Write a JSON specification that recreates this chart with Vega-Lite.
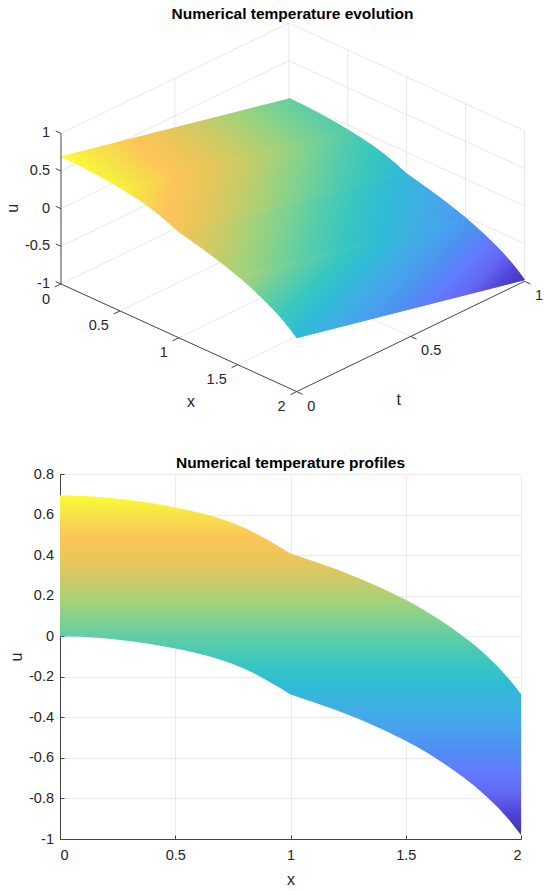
{
  "$schema": "https://vega.github.io/schema/vega-lite/v6.json",
  "background": "white",
  "padding": {"left": 5, "top": 7, "right": 5, "bottom": 5},
  "bounds": "flush",
  "spacing": 82,
  "config": {
    "view": {"stroke": null},
    "font": "Liberation Sans",
    "title": {"font": "Liberation Sans", "fontSize": 15.5, "fontWeight": "bold", "color": "#000000"},
    "text": {"font": "Liberation Sans", "color": "#262626"},
    "axis": {
      "labelFont": "Liberation Sans", "labelFontSize": 14.5, "labelColor": "#262626",
      "titleFont": "Liberation Sans", "titleFontSize": 16, "titleFontWeight": "normal", "titleColor": "#262626",
      "domainColor": "#444444", "domainWidth": 1, "tickColor": "#444444", "tickWidth": 1, "tickSize": -4,
      "labelPadding": 8, "grid": true, "gridColor": "#E6E6E6", "gridWidth": 0.8
    }
  },
  "data": {
    "values": [
      {"kind": "surf", "x": 0, "t": 0, "u": 0.695},
      {"kind": "surf", "x": 0.1, "t": 0, "u": 0.692},
      {"kind": "surf", "x": 0.2, "t": 0, "u": 0.684},
      {"kind": "surf", "x": 0.3, "t": 0, "u": 0.672},
      {"kind": "surf", "x": 0.4, "t": 0, "u": 0.656},
      {"kind": "surf", "x": 0.5, "t": 0, "u": 0.635},
      {"kind": "surf", "x": 0.55, "t": 0, "u": 0.623},
      {"kind": "surf", "x": 0.6, "t": 0, "u": 0.61},
      {"kind": "surf", "x": 0.65, "t": 0, "u": 0.595},
      {"kind": "surf", "x": 0.7, "t": 0, "u": 0.578},
      {"kind": "surf", "x": 0.75, "t": 0, "u": 0.558},
      {"kind": "surf", "x": 0.8, "t": 0, "u": 0.535},
      {"kind": "surf", "x": 0.85, "t": 0, "u": 0.507},
      {"kind": "surf", "x": 0.9, "t": 0, "u": 0.476},
      {"kind": "surf", "x": 0.95, "t": 0, "u": 0.443},
      {"kind": "surf", "x": 1, "t": 0, "u": 0.408},
      {"kind": "surf", "x": 1.1, "t": 0, "u": 0.37},
      {"kind": "surf", "x": 1.2, "t": 0, "u": 0.33},
      {"kind": "surf", "x": 1.3, "t": 0, "u": 0.285},
      {"kind": "surf", "x": 1.4, "t": 0, "u": 0.235},
      {"kind": "surf", "x": 1.5, "t": 0, "u": 0.18},
      {"kind": "surf", "x": 1.55, "t": 0, "u": 0.149},
      {"kind": "surf", "x": 1.6, "t": 0, "u": 0.115},
      {"kind": "surf", "x": 1.65, "t": 0, "u": 0.079},
      {"kind": "surf", "x": 1.7, "t": 0, "u": 0.04},
      {"kind": "surf", "x": 1.75, "t": 0, "u": -0.001},
      {"kind": "surf", "x": 1.8, "t": 0, "u": -0.045},
      {"kind": "surf", "x": 1.85, "t": 0, "u": -0.095},
      {"kind": "surf", "x": 1.9, "t": 0, "u": -0.15},
      {"kind": "surf", "x": 1.95, "t": 0, "u": -0.213},
      {"kind": "surf", "x": 2, "t": 0, "u": -0.285},
      {"kind": "surf", "x": 0, "t": 1, "u": 0},
      {"kind": "surf", "x": 0.1, "t": 1, "u": -0.003},
      {"kind": "surf", "x": 0.2, "t": 1, "u": -0.011},
      {"kind": "surf", "x": 0.3, "t": 1, "u": -0.023},
      {"kind": "surf", "x": 0.4, "t": 1, "u": -0.039},
      {"kind": "surf", "x": 0.5, "t": 1, "u": -0.06},
      {"kind": "surf", "x": 0.55, "t": 1, "u": -0.072},
      {"kind": "surf", "x": 0.6, "t": 1, "u": -0.085},
      {"kind": "surf", "x": 0.65, "t": 1, "u": -0.1},
      {"kind": "surf", "x": 0.7, "t": 1, "u": -0.117},
      {"kind": "surf", "x": 0.75, "t": 1, "u": -0.137},
      {"kind": "surf", "x": 0.8, "t": 1, "u": -0.16},
      {"kind": "surf", "x": 0.85, "t": 1, "u": -0.188},
      {"kind": "surf", "x": 0.9, "t": 1, "u": -0.219},
      {"kind": "surf", "x": 0.95, "t": 1, "u": -0.252},
      {"kind": "surf", "x": 1, "t": 1, "u": -0.287},
      {"kind": "surf", "x": 1.1, "t": 1, "u": -0.325},
      {"kind": "surf", "x": 1.2, "t": 1, "u": -0.365},
      {"kind": "surf", "x": 1.3, "t": 1, "u": -0.41},
      {"kind": "surf", "x": 1.4, "t": 1, "u": -0.46},
      {"kind": "surf", "x": 1.5, "t": 1, "u": -0.515},
      {"kind": "surf", "x": 1.55, "t": 1, "u": -0.546},
      {"kind": "surf", "x": 1.6, "t": 1, "u": -0.58},
      {"kind": "surf", "x": 1.65, "t": 1, "u": -0.616},
      {"kind": "surf", "x": 1.7, "t": 1, "u": -0.655},
      {"kind": "surf", "x": 1.75, "t": 1, "u": -0.696},
      {"kind": "surf", "x": 1.8, "t": 1, "u": -0.74},
      {"kind": "surf", "x": 1.85, "t": 1, "u": -0.79},
      {"kind": "surf", "x": 1.9, "t": 1, "u": -0.845},
      {"kind": "surf", "x": 1.95, "t": 1, "u": -0.908},
      {"kind": "surf", "x": 2, "t": 1, "u": -0.98},
      {"kind": "grid", "x": 0, "t": 0, "u": -1, "x2": 0, "t2": 1, "u2": -1},
      {"kind": "grid", "x": 0, "t": 0, "u": -0.5, "x2": 0, "t2": 1, "u2": -0.5},
      {"kind": "grid", "x": 0, "t": 0, "u": 0, "x2": 0, "t2": 1, "u2": 0},
      {"kind": "grid", "x": 0, "t": 0, "u": 0.5, "x2": 0, "t2": 1, "u2": 0.5},
      {"kind": "grid", "x": 0, "t": 0, "u": 1, "x2": 0, "t2": 1, "u2": 1},
      {"kind": "grid", "x": 0, "t": 1, "u": -1, "x2": 2, "t2": 1, "u2": -1},
      {"kind": "grid", "x": 0, "t": 1, "u": -0.5, "x2": 2, "t2": 1, "u2": -0.5},
      {"kind": "grid", "x": 0, "t": 1, "u": 0, "x2": 2, "t2": 1, "u2": 0},
      {"kind": "grid", "x": 0, "t": 1, "u": 0.5, "x2": 2, "t2": 1, "u2": 0.5},
      {"kind": "grid", "x": 0, "t": 1, "u": 1, "x2": 2, "t2": 1, "u2": 1},
      {"kind": "grid", "x": 0, "t": 0.5, "u": -1, "x2": 0, "t2": 0.5, "u2": 1},
      {"kind": "grid", "x": 0, "t": 1, "u": -1, "x2": 0, "t2": 1, "u2": 1},
      {"kind": "grid", "x": 0.5, "t": 1, "u": -1, "x2": 0.5, "t2": 1, "u2": 1},
      {"kind": "grid", "x": 1, "t": 1, "u": -1, "x2": 1, "t2": 1, "u2": 1},
      {"kind": "grid", "x": 1.5, "t": 1, "u": -1, "x2": 1.5, "t2": 1, "u2": 1},
      {"kind": "grid", "x": 2, "t": 1, "u": -1, "x2": 2, "t2": 1, "u2": 1},
      {"kind": "grid", "x": 0.5, "t": 0, "u": -1, "x2": 0.5, "t2": 1, "u2": -1},
      {"kind": "grid", "x": 1, "t": 0, "u": -1, "x2": 1, "t2": 1, "u2": -1},
      {"kind": "grid", "x": 1.5, "t": 0, "u": -1, "x2": 1.5, "t2": 1, "u2": -1},
      {"kind": "grid", "x": 0, "t": 0.5, "u": -1, "x2": 2, "t2": 0.5, "u2": -1},
      {"kind": "axis", "x": 0, "t": 0, "u": -1, "x2": 0, "t2": 0, "u2": 1},
      {"kind": "axis", "x": 0, "t": 0, "u": -1, "x2": 2, "t2": 0, "u2": -1},
      {"kind": "axis", "x": 2, "t": 0, "u": -1, "x2": 2, "t2": 1, "u2": -1},
      {"kind": "axis", "x": 0, "t": 0, "u": -1, "x2": -0.045, "t2": 0, "u2": -1},
      {"kind": "axis", "x": 0, "t": 0, "u": -0.5, "x2": -0.045, "t2": 0, "u2": -0.5},
      {"kind": "axis", "x": 0, "t": 0, "u": 0, "x2": -0.045, "t2": 0, "u2": 0},
      {"kind": "axis", "x": 0, "t": 0, "u": 0.5, "x2": -0.045, "t2": 0, "u2": 0.5},
      {"kind": "axis", "x": 0, "t": 0, "u": 1, "x2": -0.045, "t2": 0, "u2": 1},
      {"kind": "axis", "x": 0, "t": 0, "u": -1, "x2": 0, "t2": -0.027, "u2": -1},
      {"kind": "axis", "x": 0.5, "t": 0, "u": -1, "x2": 0.5, "t2": -0.027, "u2": -1},
      {"kind": "axis", "x": 1, "t": 0, "u": -1, "x2": 1, "t2": -0.027, "u2": -1},
      {"kind": "axis", "x": 1.5, "t": 0, "u": -1, "x2": 1.5, "t2": -0.027, "u2": -1},
      {"kind": "axis", "x": 2, "t": 0, "u": -1, "x2": 2, "t2": -0.027, "u2": -1},
      {"kind": "axis", "x": 2, "t": 0, "u": -1, "x2": 2.05, "t2": 0, "u2": -1},
      {"kind": "axis", "x": 2, "t": 0.5, "u": -1, "x2": 2.05, "t2": 0.5, "u2": -1},
      {"kind": "axis", "x": 2, "t": 1, "u": -1, "x2": 2.05, "t2": 1, "u2": -1},
      {"kind": "ulab", "x": 0, "t": 0, "u": 1, "label": "1"},
      {"kind": "ulab", "x": 0, "t": 0, "u": 0.5, "label": "0.5"},
      {"kind": "ulab", "x": 0, "t": 0, "u": 0, "label": "0"},
      {"kind": "ulab", "x": 0, "t": 0, "u": -0.5, "label": "-0.5"},
      {"kind": "ulab", "x": 0, "t": 0, "u": -1, "label": "-1"},
      {"kind": "xlab", "x": 0, "t": 0, "u": -1, "label": "0"},
      {"kind": "xlab", "x": 0.5, "t": 0, "u": -1, "label": "0.5"},
      {"kind": "xlab", "x": 1, "t": 0, "u": -1, "label": "1"},
      {"kind": "xlab", "x": 1.5, "t": 0, "u": -1, "label": "1.5"},
      {"kind": "xlab", "x": 2, "t": 0, "u": -1, "label": "2"},
      {"kind": "tlab", "x": 2, "t": 0, "u": -1, "label": "0"},
      {"kind": "tlab", "x": 2, "t": 0.5, "u": -1, "label": "0.5"},
      {"kind": "tlab", "x": 2, "t": 1, "u": -1, "label": "1"},
      {"kind": "ttl", "x": 1.635, "t": -0.275, "u": -1, "label": "x"},
      {"kind": "ttl", "x": 2.519, "t": 0.179, "u": -1, "label": "t"},
      {"kind": "uttl", "x": -0.212, "t": -0.1, "u": 0, "label": "u"}
    ]
  },
  "vconcat": [
    {
      "title": {"text": "Numerical temperature evolution", "offset": -11.8, "baseline": "alphabetic", "frame": "group"},
      "width": 465,
      "height": 369,
      "transform": [
        {"calculate": "117.85*datum.x + 227.8*datum.t", "as": "P"},
        {"calculate": "-53.8*datum.x + 110.3*datum.t + 75.3*(datum.u + 1)", "as": "Q"},
        {"calculate": "117.85*datum.x2 + 227.8*datum.t2", "as": "P2"},
        {"calculate": "-53.8*datum.x2 + 110.3*datum.t2 + 75.3*(datum.u2 + 1)", "as": "Q2"}
      ],
      "layer": [
        {
          "transform": [{"filter": "datum.kind == 'grid'"}],
          "mark": {"type": "rule", "color": "#E2E2E2", "strokeWidth": 0.8},
          "encoding": {
            "x": {"field": "P", "type": "quantitative", "scale": {"domain": [-1, 464], "nice": false, "zero": false}, "axis": null},
            "y": {"field": "Q", "type": "quantitative", "scale": {"domain": [-108, 261], "nice": false, "zero": false}, "axis": null},
            "x2": {"field": "P2"},
            "y2": {"field": "Q2"}
          }
        },
        {
          "transform": [
            {"filter": "datum.kind == 'surf' && datum.x <= 0.5"},
            {"calculate": "datum.t == 0 ? datum.x : 10 - datum.x", "as": "ord"}
          ],
          "mark": {
            "type": "line", "strokeWidth": 1,
            "fill": {"gradient": "linear", "x1": -0.197, "y1": 0.068, "x2": 1.999, "y2": -0.696, "stops": [{"offset": 0, "color": "#FAFC32"}, {"offset": 0.0625, "color": "#F6E149"}, {"offset": 0.125, "color": "#FDC559"}, {"offset": 0.1875, "color": "#EAC65A"}, {"offset": 0.25, "color": "#CBCB66"}, {"offset": 0.3125, "color": "#A4D279"}, {"offset": 0.375, "color": "#7AD193"}, {"offset": 0.4375, "color": "#54CCAC"}, {"offset": 0.5, "color": "#37C6C1"}, {"offset": 0.5625, "color": "#2FBBD6"}, {"offset": 0.625, "color": "#3FAEE3"}, {"offset": 0.6875, "color": "#48A1EF"}, {"offset": 0.75, "color": "#4E8FF2"}, {"offset": 0.8125, "color": "#627BFE"}, {"offset": 0.875, "color": "#6368F5"}, {"offset": 0.9375, "color": "#5044D8"}, {"offset": 1, "color": "#4230AE"}]},
            "stroke": {"gradient": "linear", "x1": -0.197, "y1": 0.068, "x2": 1.999, "y2": -0.696, "stops": [{"offset": 0, "color": "#FAFC32"}, {"offset": 0.0625, "color": "#F6E149"}, {"offset": 0.125, "color": "#FDC559"}, {"offset": 0.1875, "color": "#EAC65A"}, {"offset": 0.25, "color": "#CBCB66"}, {"offset": 0.3125, "color": "#A4D279"}, {"offset": 0.375, "color": "#7AD193"}, {"offset": 0.4375, "color": "#54CCAC"}, {"offset": 0.5, "color": "#37C6C1"}, {"offset": 0.5625, "color": "#2FBBD6"}, {"offset": 0.625, "color": "#3FAEE3"}, {"offset": 0.6875, "color": "#48A1EF"}, {"offset": 0.75, "color": "#4E8FF2"}, {"offset": 0.8125, "color": "#627BFE"}, {"offset": 0.875, "color": "#6368F5"}, {"offset": 0.9375, "color": "#5044D8"}, {"offset": 1, "color": "#4230AE"}]}
          },
          "encoding": {
            "x": {"field": "P", "type": "quantitative", "scale": {"domain": [-1, 464], "nice": false, "zero": false}, "axis": null},
            "y": {"field": "Q", "type": "quantitative", "scale": {"domain": [-108, 261], "nice": false, "zero": false}, "axis": null},
            "order": {"field": "ord", "type": "quantitative"}
          }
        },
        {
          "transform": [
            {"filter": "datum.kind == 'surf' && datum.x >= 0.5 && datum.x <= 1"},
            {"calculate": "datum.t == 0 ? datum.x : 10 - datum.x", "as": "ord"}
          ],
          "mark": {
            "type": "line", "strokeWidth": 1,
            "fill": {"gradient": "linear", "x1": 0.008, "y1": 0.001, "x2": 1.787, "y2": 0.16, "stops": [{"offset": 0, "color": "#FAFC32"}, {"offset": 0.0625, "color": "#F6E149"}, {"offset": 0.125, "color": "#FDC559"}, {"offset": 0.1875, "color": "#EAC65A"}, {"offset": 0.25, "color": "#CBCB66"}, {"offset": 0.3125, "color": "#A4D279"}, {"offset": 0.375, "color": "#7AD193"}, {"offset": 0.4375, "color": "#54CCAC"}, {"offset": 0.5, "color": "#37C6C1"}, {"offset": 0.5625, "color": "#2FBBD6"}, {"offset": 0.625, "color": "#3FAEE3"}, {"offset": 0.6875, "color": "#48A1EF"}, {"offset": 0.75, "color": "#4E8FF2"}, {"offset": 0.8125, "color": "#627BFE"}, {"offset": 0.875, "color": "#6368F5"}, {"offset": 0.9375, "color": "#5044D8"}, {"offset": 1, "color": "#4230AE"}]},
            "stroke": {"gradient": "linear", "x1": 0.008, "y1": 0.001, "x2": 1.787, "y2": 0.16, "stops": [{"offset": 0, "color": "#FAFC32"}, {"offset": 0.0625, "color": "#F6E149"}, {"offset": 0.125, "color": "#FDC559"}, {"offset": 0.1875, "color": "#EAC65A"}, {"offset": 0.25, "color": "#CBCB66"}, {"offset": 0.3125, "color": "#A4D279"}, {"offset": 0.375, "color": "#7AD193"}, {"offset": 0.4375, "color": "#54CCAC"}, {"offset": 0.5, "color": "#37C6C1"}, {"offset": 0.5625, "color": "#2FBBD6"}, {"offset": 0.625, "color": "#3FAEE3"}, {"offset": 0.6875, "color": "#48A1EF"}, {"offset": 0.75, "color": "#4E8FF2"}, {"offset": 0.8125, "color": "#627BFE"}, {"offset": 0.875, "color": "#6368F5"}, {"offset": 0.9375, "color": "#5044D8"}, {"offset": 1, "color": "#4230AE"}]}
          },
          "encoding": {
            "x": {"field": "P", "type": "quantitative", "scale": {"domain": [-1, 464], "nice": false, "zero": false}, "axis": null},
            "y": {"field": "Q", "type": "quantitative", "scale": {"domain": [-108, 261], "nice": false, "zero": false}, "axis": null},
            "order": {"field": "ord", "type": "quantitative"}
          }
        },
        {
          "transform": [
            {"filter": "datum.kind == 'surf' && datum.x >= 1 && datum.x <= 1.5"},
            {"calculate": "datum.t == 0 ? datum.x : 10 - datum.x", "as": "ord"}
          ],
          "mark": {
            "type": "line", "strokeWidth": 1,
            "fill": {"gradient": "linear", "x1": -0.246, "y1": -0.024, "x2": 1.523, "y2": 0.146, "stops": [{"offset": 0, "color": "#FAFC32"}, {"offset": 0.0625, "color": "#F6E149"}, {"offset": 0.125, "color": "#FDC559"}, {"offset": 0.1875, "color": "#EAC65A"}, {"offset": 0.25, "color": "#CBCB66"}, {"offset": 0.3125, "color": "#A4D279"}, {"offset": 0.375, "color": "#7AD193"}, {"offset": 0.4375, "color": "#54CCAC"}, {"offset": 0.5, "color": "#37C6C1"}, {"offset": 0.5625, "color": "#2FBBD6"}, {"offset": 0.625, "color": "#3FAEE3"}, {"offset": 0.6875, "color": "#48A1EF"}, {"offset": 0.75, "color": "#4E8FF2"}, {"offset": 0.8125, "color": "#627BFE"}, {"offset": 0.875, "color": "#6368F5"}, {"offset": 0.9375, "color": "#5044D8"}, {"offset": 1, "color": "#4230AE"}]},
            "stroke": {"gradient": "linear", "x1": -0.246, "y1": -0.024, "x2": 1.523, "y2": 0.146, "stops": [{"offset": 0, "color": "#FAFC32"}, {"offset": 0.0625, "color": "#F6E149"}, {"offset": 0.125, "color": "#FDC559"}, {"offset": 0.1875, "color": "#EAC65A"}, {"offset": 0.25, "color": "#CBCB66"}, {"offset": 0.3125, "color": "#A4D279"}, {"offset": 0.375, "color": "#7AD193"}, {"offset": 0.4375, "color": "#54CCAC"}, {"offset": 0.5, "color": "#37C6C1"}, {"offset": 0.5625, "color": "#2FBBD6"}, {"offset": 0.625, "color": "#3FAEE3"}, {"offset": 0.6875, "color": "#48A1EF"}, {"offset": 0.75, "color": "#4E8FF2"}, {"offset": 0.8125, "color": "#627BFE"}, {"offset": 0.875, "color": "#6368F5"}, {"offset": 0.9375, "color": "#5044D8"}, {"offset": 1, "color": "#4230AE"}]}
          },
          "encoding": {
            "x": {"field": "P", "type": "quantitative", "scale": {"domain": [-1, 464], "nice": false, "zero": false}, "axis": null},
            "y": {"field": "Q", "type": "quantitative", "scale": {"domain": [-108, 261], "nice": false, "zero": false}, "axis": null},
            "order": {"field": "ord", "type": "quantitative"}
          }
        },
        {
          "transform": [
            {"filter": "datum.kind == 'surf' && datum.x >= 1.5"},
            {"calculate": "datum.t == 0 ? datum.x : 10 - datum.x", "as": "ord"}
          ],
          "mark": {
            "type": "line", "strokeWidth": 1,
            "fill": {"gradient": "linear", "x1": -0.212, "y1": -0.082, "x2": 1.063, "y2": 0.41, "stops": [{"offset": 0, "color": "#FAFC32"}, {"offset": 0.0625, "color": "#F6E149"}, {"offset": 0.125, "color": "#FDC559"}, {"offset": 0.1875, "color": "#EAC65A"}, {"offset": 0.25, "color": "#CBCB66"}, {"offset": 0.3125, "color": "#A4D279"}, {"offset": 0.375, "color": "#7AD193"}, {"offset": 0.4375, "color": "#54CCAC"}, {"offset": 0.5, "color": "#37C6C1"}, {"offset": 0.5625, "color": "#2FBBD6"}, {"offset": 0.625, "color": "#3FAEE3"}, {"offset": 0.6875, "color": "#48A1EF"}, {"offset": 0.75, "color": "#4E8FF2"}, {"offset": 0.8125, "color": "#627BFE"}, {"offset": 0.875, "color": "#6368F5"}, {"offset": 0.9375, "color": "#5044D8"}, {"offset": 1, "color": "#4230AE"}]},
            "stroke": {"gradient": "linear", "x1": -0.212, "y1": -0.082, "x2": 1.063, "y2": 0.41, "stops": [{"offset": 0, "color": "#FAFC32"}, {"offset": 0.0625, "color": "#F6E149"}, {"offset": 0.125, "color": "#FDC559"}, {"offset": 0.1875, "color": "#EAC65A"}, {"offset": 0.25, "color": "#CBCB66"}, {"offset": 0.3125, "color": "#A4D279"}, {"offset": 0.375, "color": "#7AD193"}, {"offset": 0.4375, "color": "#54CCAC"}, {"offset": 0.5, "color": "#37C6C1"}, {"offset": 0.5625, "color": "#2FBBD6"}, {"offset": 0.625, "color": "#3FAEE3"}, {"offset": 0.6875, "color": "#48A1EF"}, {"offset": 0.75, "color": "#4E8FF2"}, {"offset": 0.8125, "color": "#627BFE"}, {"offset": 0.875, "color": "#6368F5"}, {"offset": 0.9375, "color": "#5044D8"}, {"offset": 1, "color": "#4230AE"}]}
          },
          "encoding": {
            "x": {"field": "P", "type": "quantitative", "scale": {"domain": [-1, 464], "nice": false, "zero": false}, "axis": null},
            "y": {"field": "Q", "type": "quantitative", "scale": {"domain": [-108, 261], "nice": false, "zero": false}, "axis": null},
            "order": {"field": "ord", "type": "quantitative"}
          }
        },
        {
          "transform": [{"filter": "datum.kind == 'axis'"}],
          "mark": {"type": "rule", "color": "#444444", "strokeWidth": 1},
          "encoding": {
            "x": {"field": "P", "type": "quantitative", "scale": {"domain": [-1, 464], "nice": false, "zero": false}, "axis": null},
            "y": {"field": "Q", "type": "quantitative", "scale": {"domain": [-108, 261], "nice": false, "zero": false}, "axis": null},
            "x2": {"field": "P2"},
            "y2": {"field": "Q2"}
          }
        },
        {
          "transform": [{"filter": "datum.kind == 'ulab'"}],
          "mark": {"type": "text", "align": "right", "baseline": "middle", "dx": -11, "fontSize": 14.5},
          "encoding": {
            "x": {"field": "P", "type": "quantitative", "scale": {"domain": [-1, 464], "nice": false, "zero": false}, "axis": null},
            "y": {"field": "Q", "type": "quantitative", "scale": {"domain": [-108, 261], "nice": false, "zero": false}, "axis": null},
            "text": {"field": "label"}
          }
        },
        {
          "transform": [{"filter": "datum.kind == 'xlab'"}],
          "mark": {"type": "text", "align": "right", "baseline": "middle", "dx": -11, "dy": 15.5, "fontSize": 14.5},
          "encoding": {
            "x": {"field": "P", "type": "quantitative", "scale": {"domain": [-1, 464], "nice": false, "zero": false}, "axis": null},
            "y": {"field": "Q", "type": "quantitative", "scale": {"domain": [-108, 261], "nice": false, "zero": false}, "axis": null},
            "text": {"field": "label"}
          }
        },
        {
          "transform": [{"filter": "datum.kind == 'tlab'"}],
          "mark": {"type": "text", "align": "left", "baseline": "middle", "dx": 10.5, "dy": 15, "fontSize": 14.5},
          "encoding": {
            "x": {"field": "P", "type": "quantitative", "scale": {"domain": [-1, 464], "nice": false, "zero": false}, "axis": null},
            "y": {"field": "Q", "type": "quantitative", "scale": {"domain": [-108, 261], "nice": false, "zero": false}, "axis": null},
            "text": {"field": "label"}
          }
        },
        {
          "transform": [{"filter": "datum.kind == 'ttl'"}],
          "mark": {"type": "text", "align": "center", "baseline": "middle", "fontSize": 16},
          "encoding": {
            "x": {"field": "P", "type": "quantitative", "scale": {"domain": [-1, 464], "nice": false, "zero": false}, "axis": null},
            "y": {"field": "Q", "type": "quantitative", "scale": {"domain": [-108, 261], "nice": false, "zero": false}, "axis": null},
            "text": {"field": "label"}
          }
        },
        {
          "transform": [{"filter": "datum.kind == 'uttl'"}],
          "mark": {"type": "text", "align": "center", "baseline": "middle", "angle": 270, "fontSize": 16},
          "encoding": {
            "x": {"field": "P", "type": "quantitative", "scale": {"domain": [-1, 464], "nice": false, "zero": false}, "axis": null},
            "y": {"field": "Q", "type": "quantitative", "scale": {"domain": [-108, 261], "nice": false, "zero": false}, "axis": null},
            "text": {"field": "label"}
          }
        }
      ]
    },
    {
      "title": {"text": "Numerical temperature profiles", "offset": -17.3, "baseline": "alphabetic", "frame": "group"},
      "width": 461,
      "height": 365,
      "transform": [
        {"filter": "datum.kind == 'surf'"},
        {"pivot": "t", "value": "u", "groupby": ["x"]}
      ],
      "mark": {
        "type": "area",
        "color": {"gradient": "linear", "x1": 0, "y1": 0, "x2": 0, "y2": 1, "stops": [{"offset": 0, "color": "#FAFC32"}, {"offset": 0.0625, "color": "#F6E149"}, {"offset": 0.125, "color": "#FDC559"}, {"offset": 0.1875, "color": "#EAC65A"}, {"offset": 0.25, "color": "#CBCB66"}, {"offset": 0.3125, "color": "#A4D279"}, {"offset": 0.375, "color": "#7AD193"}, {"offset": 0.4375, "color": "#54CCAC"}, {"offset": 0.5, "color": "#37C6C1"}, {"offset": 0.5625, "color": "#2FBBD6"}, {"offset": 0.625, "color": "#3FAEE3"}, {"offset": 0.6875, "color": "#48A1EF"}, {"offset": 0.75, "color": "#4E8FF2"}, {"offset": 0.8125, "color": "#627BFE"}, {"offset": 0.875, "color": "#6368F5"}, {"offset": 0.9375, "color": "#5044D8"}, {"offset": 1, "color": "#4230AE"}]}
      },
      "encoding": {
        "x": {
          "field": "x", "type": "quantitative",
          "scale": {"domain": [0, 2], "nice": false, "zero": false},
          "axis": {"values": [0, 0.5, 1, 1.5, 2], "format": ".1~f", "title": "x", "labelPadding": 13, "titlePadding": 10}
        },
        "y": {
          "field": "0", "type": "quantitative",
          "scale": {"domain": [-1, 0.8], "nice": false, "zero": false},
          "axis": {"values": [-1, -0.8, -0.6, -0.4, -0.2, 0, 0.2, 0.4, 0.6, 0.8], "format": ".1~f", "labelExpr": "replace(datum.label, '\u2212', '-')", "title": "u", "labelPadding": 10.5, "titlePadding": 4}
        },
        "y2": {"field": "1"}
      }
    }
  ]
}
